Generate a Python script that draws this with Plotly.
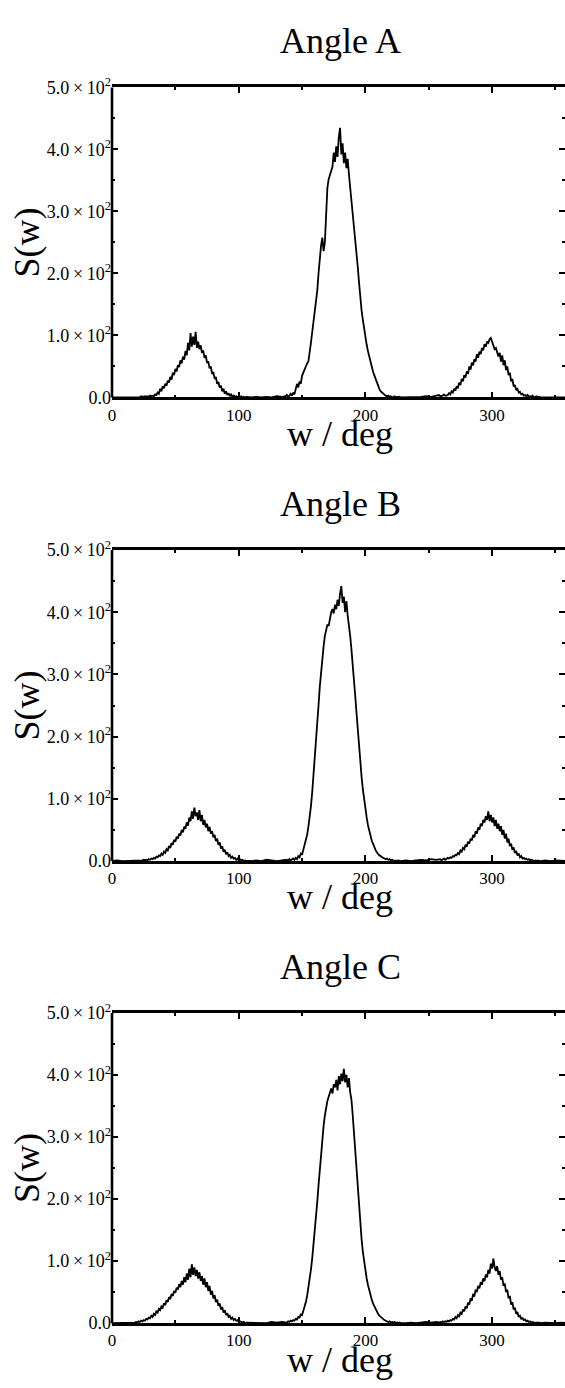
import plotly.graph_objects as go

# ---------------- data ----------------
PANEL_TITLES = ["Angle A", "Angle B", "Angle C"]
X_LABEL = "w / deg"
Y_LABEL = "S(w)"
X_TICKS = [0, 100, 200, 300]
X_TICK_TEXT = ["0", "100", "200", "300"]
Y_TICKS = [0, 100, 200, 300, 400, 500]
Y_TICK_TEXT = ["0.0", "1.0\u2009×\u200910<sup>2</sup>", "2.0\u2009×\u200910<sup>2</sup>",
               "3.0\u2009×\u200910<sup>2</sup>", "4.0\u2009×\u200910<sup>2</sup>",
               "5.0\u2009×\u200910<sup>2</sup>"]

# angle grid (deg)
W_BASE0 = [0, 4, 8, 12, 16]
W_PEAK1 = list(range(18, 107))
W_BASE1 = [110, 114, 118, 122, 126, 130, 134]
W_PEAK2 = list(range(137, 229))
W_BASE2 = [232, 236, 240, 244, 248, 252, 256]
W_PEAK3 = list(range(258, 339))
W_BASE3 = [342, 346, 350, 354, 358, 360]

# ---- Angle A ----
A_BASE0 = [0, 0, 1, 0, 1]
A_PEAK1 = [0, 1, 0, 1, 0, 2, 1, 1, 2, 1,
           2, 1, 3, 2, 3, 2, 5, 4, 8, 6,
           14, 10, 18, 15, 22, 19, 27, 24, 33, 29,
           40, 36, 46, 42, 52, 49, 60, 55, 66, 61,
           75, 68, 88, 76, 104, 82, 98, 85, 106, 80,
           90, 78, 84, 72, 76, 64, 68, 56, 58, 47,
           50, 38, 41, 30, 33, 22, 25, 16, 19, 10,
           14, 6, 10, 4, 7, 2, 5, 1, 3, 1,
           2, 1, 0, 1, 2, 0, 1, 0, 1]
A_BASE1 = [0, 1, 0, 1, 0, 2, 1]
A_PEAK2 = [2, 4, 1, 3, 6, 3, 8, 5, 12, 22,
           16, 26, 22, 35, 40, 46, 52, 55, 58, 70,
           88, 105, 120, 135, 150, 172, 200, 228, 245, 258,
           236, 250, 300, 338, 352, 360, 366, 372, 395, 380,
           405, 388, 420, 435, 392, 410, 378, 395, 370, 385,
           360, 340, 320, 295, 270, 255, 235, 210, 185, 160,
           140, 125, 110, 98, 85, 75, 66, 56, 50, 42,
           36, 30, 24, 18, 14, 10, 8, 6, 4, 3,
           2, 3, 1, 2, 0, 1, 2, 0, 1, 0,
           1, 0]
A_BASE2 = [0, 1, 0, 1, 2, 1, 3]
A_PEAK3 = [4, 2, 2, 3, 5, 3, 3, 4, 7, 5,
           10, 8, 14, 11, 18, 15, 24, 20, 30, 26,
           36, 32, 42, 38, 50, 45, 56, 52, 62, 58,
           70, 64, 74, 70, 80, 76, 86, 82, 90, 88,
           94, 96, 90, 84, 78, 80, 70, 66, 72, 58,
           68, 52, 60, 44, 50, 36, 40, 26, 30, 18,
           20, 12, 14, 8, 9, 5, 6, 3, 4, 2,
           4, 1, 2, 1, 3, 0, 1, 2, 0, 1,
           0]
A_BASE3 = [0, 1, 0, 0, 1, 0]

# ---- Angle B ----
B_BASE0 = [0, 1, 0, 0, 1]
B_PEAK1 = [0, 0, 1, 0, 1, 0, 1, 2, 1, 2,
           1, 3, 2, 4, 3, 5, 4, 7, 6, 9,
           8, 12, 10, 15, 13, 19, 17, 24, 21, 29,
           26, 34, 31, 39, 36, 44, 41, 50, 46, 55,
           52, 62, 57, 70, 64, 80, 68, 86, 72, 78,
           66, 82, 64, 74, 58, 66, 54, 60, 48, 55,
           44, 48, 38, 42, 32, 36, 26, 30, 20, 24,
           15, 18, 11, 14, 8, 10, 5, 7, 4, 5,
           2, 4, 1, 3, 1, 2, 0, 1, 0]
B_BASE1 = [0, 1, 0, 2, 1, 0, 1]
B_PEAK2 = [1, 2, 0, 3, 1, 2, 4, 2, 5, 3,
           8, 6, 12, 10, 18, 24, 32, 42, 55, 70,
           88, 110, 135, 160, 190, 220, 250, 280, 305, 330,
           345, 362, 370, 380, 378, 392, 400, 405, 398, 412,
           405, 420, 410, 430, 442, 415, 425, 400, 418, 395,
           380, 362, 340, 318, 290, 265, 238, 210, 182, 158,
           135, 115, 98, 82, 70, 58, 48, 40, 33, 28,
           22, 18, 14, 11, 9, 8, 6, 5, 4, 3,
           4, 2, 3, 1, 2, 1, 0, 1, 0, 1,
           0, 0]
B_BASE2 = [1, 0, 1, 2, 1, 3, 2]
B_PEAK3 = [2, 3, 1, 2, 4, 2, 3, 5, 4, 6,
           5, 8, 7, 10, 9, 13, 11, 17, 15, 21,
           19, 26, 23, 31, 28, 36, 33, 42, 38, 48,
           44, 54, 50, 60, 56, 66, 62, 72, 66, 80,
           64, 74, 62, 70, 56, 66, 52, 60, 48, 56,
           42, 50, 36, 44, 30, 36, 24, 28, 18, 22,
           13, 16, 9, 12, 6, 8, 4, 5, 3, 4,
           2, 3, 1, 2, 1, 0, 1, 0, 1, 0,
           0]
B_BASE3 = [1, 0, 1, 0, 0, 0]

# ---- Angle C ----
C_BASE0 = [0, 0, 0, 1, 0]
C_PEAK1 = [1, 2, 1, 3, 2, 4, 3, 5, 4, 7,
           6, 9, 8, 12, 10, 15, 13, 19, 17, 23,
           21, 27, 25, 32, 29, 37, 34, 42, 39, 47,
           44, 52, 49, 57, 54, 63, 58, 68, 62, 74,
           66, 80, 70, 88, 74, 95, 78, 90, 76, 86,
           72, 82, 68, 76, 62, 72, 58, 66, 52, 60,
           46, 52, 40, 45, 34, 38, 28, 32, 22, 26,
           17, 21, 13, 16, 10, 12, 7, 9, 5, 7,
           4, 5, 2, 3, 2, 1, 2, 0, 1]
C_BASE1 = [1, 0, 1, 0, 2, 1, 2]
C_PEAK2 = [2, 1, 3, 2, 4, 3, 5, 4, 7, 6,
           10, 9, 14, 13, 20, 26, 34, 44, 56, 70,
           86, 104, 124, 146, 170, 195, 222, 250, 278, 300,
           318, 335, 348, 358, 365, 372, 378, 370, 385, 380,
           392, 375, 398, 385, 402, 390, 410, 388, 400, 380,
           395, 372, 360, 335, 305, 275, 245, 215, 185, 158,
           135, 115, 98, 84, 72, 62, 53, 45, 38, 32,
           27, 22, 18, 15, 12, 10, 8, 6, 5, 4,
           3, 2, 3, 1, 2, 1, 2, 0, 1, 0,
           1, 0]
C_BASE2 = [0, 1, 0, 1, 2, 1, 2]
C_PEAK3 = [1, 2, 1, 3, 2, 3, 2, 4, 3, 5,
           4, 7, 6, 10, 8, 13, 11, 17, 15, 22,
           19, 27, 24, 33, 30, 40, 36, 47, 43, 54,
           50, 60, 56, 66, 62, 72, 68, 78, 74, 86,
           80, 96, 88, 104, 90, 84, 92, 78, 84, 70,
           74, 60, 64, 50, 54, 40, 44, 30, 34, 22,
           25, 15, 18, 10, 12, 7, 8, 5, 6, 3,
           4, 2, 3, 1, 2, 1, 0, 1, 0, 1,
           0]
C_BASE3 = [1, 0, 0, 1, 0, 0]

# ---------------- assemble ----------------
W_ALL = W_BASE0 + W_PEAK1 + W_BASE1 + W_PEAK2 + W_BASE2 + W_PEAK3 + W_BASE3
SERIES = [
    A_BASE0 + A_PEAK1 + A_BASE1 + A_PEAK2 + A_BASE2 + A_PEAK3 + A_BASE3,
    B_BASE0 + B_PEAK1 + B_BASE1 + B_PEAK2 + B_BASE2 + B_PEAK3 + B_BASE3,
    C_BASE0 + C_PEAK1 + C_BASE1 + C_PEAK2 + C_BASE2 + C_PEAK3 + C_BASE3,
]

FIG_W, FIG_H = 565, 1388
M_L = 112
PLOT_W = FIG_W - M_L
PX_PER_DEG = 1.267
X_MAX = PLOT_W / PX_PER_DEG
PANEL_PX = [(76.7, 391.7), (546.7, 862.7), (1017.0, 1332.3)]
FONT = "Liberation Serif"

def py(px):
    return 1 - px / FIG_H

def pxx(px):
    return (px - M_L) / PLOT_W

fig = go.Figure()
annotations = []
shapes = []
for i, (title, ys) in enumerate(zip(PANEL_TITLES, SERIES)):
    n = min(len(ys), len(W_ALL))
    sfx = "" if i == 0 else str(i + 1)
    fig.add_trace(go.Scatter(x=W_ALL[:n], y=ys[:n], mode="lines",
                             line=dict(color="black", width=1.8),
                             xaxis="x" + sfx, yaxis="y" + sfx, showlegend=False,
                             hoverinfo="skip"))
    top, bot = PANEL_PX[i]
    tick_style = dict(ticks="inside", ticklen=6, tickwidth=1.5, tickcolor="black",
                      showgrid=False, zeroline=False)
    minor = dict(ticks="inside", ticklen=3, tickwidth=1.5, tickcolor="black",
                 dtick=50, tick0=0)
    fig.update_layout(**{
        "xaxis" + sfx: dict(domain=[0, 1], range=[0, X_MAX], anchor="y" + sfx,
                            tickvals=X_TICKS, ticktext=X_TICK_TEXT, minor=minor,
                            showline=True, linecolor="black", linewidth=2.6, mirror="ticks",
                            tickfont=dict(family=FONT, size=17, color="black"),
                            **tick_style),
        "yaxis" + sfx: dict(domain=[py(bot), py(top)], range=[0, 500], anchor="x" + sfx,
                            tickvals=Y_TICKS, ticktext=Y_TICK_TEXT, minor=minor,
                            showline=False, mirror="ticks",
                            tickfont=dict(family=FONT, size=18, color="black"),
                            **tick_style),
    })
    # left frame line only (right edge of the frame is cut off in the reference)
    shapes.append(dict(type="line", xref="x" + sfx + " domain", yref="y" + sfx + " domain",
                       x0=0, x1=0, y0=0, y1=1, line=dict(color="black", width=2.6),
                       layer="above"))
    annotations.append(dict(text=title, x=pxx(340), y=py(top - 47), xref="paper", yref="paper",
                            showarrow=False, xanchor="center", yanchor="middle",
                            font=dict(family=FONT, size=36, color="black")))
    annotations.append(dict(text=X_LABEL, x=pxx(340), y=py(bot + 37), xref="paper", yref="paper",
                            showarrow=False, xanchor="center", yanchor="middle",
                            font=dict(family=FONT, size=36, color="black")))
    annotations.append(dict(text=Y_LABEL, x=pxx(27), y=py((top + bot) / 2), xref="paper",
                            yref="paper", showarrow=False, xanchor="center", yanchor="middle",
                            textangle=-90,
                            font=dict(family=FONT, size=36, color="black")))

fig.update_layout(width=FIG_W, height=FIG_H, margin=dict(l=M_L, r=0, t=0, b=0),
                  plot_bgcolor="white", paper_bgcolor="white",
                  annotations=annotations, shapes=shapes, showlegend=False)
fig.write_html("out.html")
